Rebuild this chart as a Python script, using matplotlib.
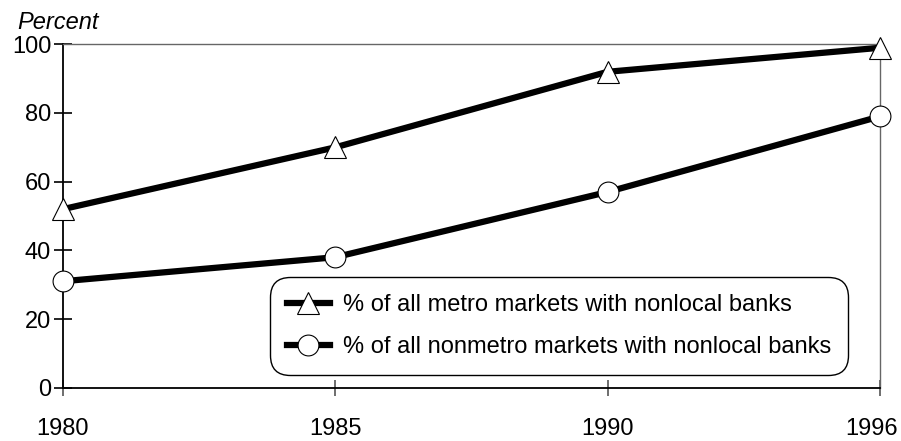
import matplotlib
matplotlib.use("Agg")
import matplotlib.pyplot as plt
from matplotlib.transforms import ScaledTranslation

years = ["1980", "1985", "1990", "1996"]
metro = [52, 70, 92, 99]
nonmetro = [31, 38, 57, 79]
labels = ["% of all metro markets with nonlocal banks",
          "% of all nonmetro markets with nonlocal banks"]
yticks = [0, 20, 40, 60, 80, 100]

plt.rcParams["font.family"] = ["Liberation Sans", "DejaVu Sans"]

fig = plt.figure(figsize=(9.01, 4.41), dpi=100)
ax = fig.add_axes([0.0699, 0.1209, 0.9068, 0.7786])

x = list(range(len(years)))
ax.plot(x, metro, color="black", lw=4.5, marker="^", ms=16.5,
        mfc="white", mec="black", mew=0.8, label=labels[0], clip_on=False, zorder=3)
ax.plot(x, nonmetro, color="black", lw=4.5, marker="o", ms=15,
        mfc="white", mec="black", mew=0.8, label=labels[1], clip_on=False, zorder=3)

ax.set_xlim(0, 3)
ax.set_ylim(0, 100)
ax.set_xticks(x)
ax.set_xticklabels(years, fontsize=17)
ax.set_yticks(yticks)
ax.set_yticklabels([str(v) for v in yticks], fontsize=17)

ax.tick_params(axis="y", direction="inout", length=13, width=1.2, color="black", pad=2)
ax.tick_params(axis="x", direction="inout", length=12, width=1.2, color="#555555", pad=15.5)

# keep the last year label inside the figure
last = ax.get_xticklabels()[-1]
last.set_transform(last.get_transform() + ScaledTranslation(-8 / 100, 0, fig.dpi_scale_trans))

for side in ("left", "bottom"):
    ax.spines[side].set_color("black")
    ax.spines[side].set_linewidth(1.3)
for side in ("top", "right"):
    ax.spines[side].set_color("#666666")
    ax.spines[side].set_linewidth(1.0)

fig.text(17 / 901, 1 - 29 / 441, "Percent", fontsize=17,
         style="italic", ha="left", va="baseline")

leg = ax.legend(loc="lower right", bbox_to_anchor=(0.961, 0.037), fontsize=17,
                frameon=True, fancybox=True, framealpha=1, edgecolor="black",
                handlelength=1.82, handletextpad=0.55, borderpad=0.72,
                labelspacing=0.85, borderaxespad=0, markerscale=1.0)
frame = leg.get_frame()
frame.set_linewidth(1.0)
frame.set_boxstyle("round", pad=0, rounding_size=0.85)

fig.savefig("out.png", dpi=100)
